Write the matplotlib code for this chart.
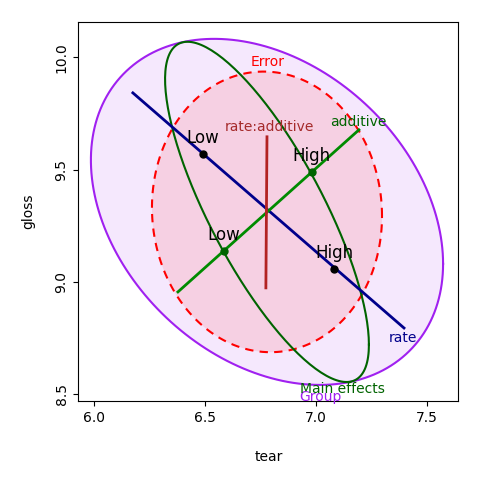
import matplotlib
matplotlib.use("Agg")
import matplotlib.pyplot as plt
import numpy as np

center = (6.778, 9.311)

# ellipses: (sd_x, sd_y, rho, colour, style, fill alpha)
group_ell = (0.793, 0.772, -0.30)
main_ell = (0.459, 0.759, -0.78)
error_ell = (0.518, 0.626, -0.03)

rate_line = ([6.174, 7.395], [9.842, 8.793])
rate_pts = ([6.490, 7.080], [9.570, 9.057])
additive_line = ([6.377, 7.192], [8.954, 9.677])
additive_pts = ([6.584, 6.980], [9.137, 9.490])
inter_line = ([6.778, 6.773], [9.646, 8.972])
levels = ["Low", "High"]


def ellipse(sx, sy, rho, n=200):
    t = np.linspace(0, 2 * np.pi, n)
    cov = np.array([[sx**2, rho * sx * sy], [rho * sx * sy, sy**2]])
    L = np.linalg.cholesky(cov)
    z = np.vstack([np.cos(t), np.sin(t)])
    xy = L @ z
    return center[0] + xy[0], center[1] + xy[1]


fig = plt.figure(figsize=(4.8, 4.8), dpi=100)
ax = fig.add_axes([0.163, 0.164, 0.792, 0.791])

x, y = ellipse(*group_ell)
ax.fill(x, y, color="#A020F0", alpha=0.1, lw=0)
ax.plot(x, y, color="#A020F0", lw=1.5)
x, y = ellipse(*error_ell)
ax.fill(x, y, color="#FF0000", alpha=0.1, lw=0)
ax.plot(x, y, color="#FF0000", lw=1.5, ls=(0, (4, 3)))
x, y = ellipse(*main_ell)
ax.plot(x, y, color="#006400", lw=1.5)

ax.plot(*rate_line, color="#00008B", lw=2)
ax.plot(*additive_line, color="#008B00", lw=2)
ax.plot(*inter_line, color="#B22222", lw=2)
ax.plot(*rate_pts, "o", color="black", ms=5)
ax.plot(*additive_pts, "o", color="#006400", ms=5)
for i, lab in enumerate(levels):
    ax.text(rate_pts[0][i], rate_pts[1][i] + 0.03, lab, ha="center", va="bottom", fontsize=12)
    ax.text(additive_pts[0][i], additive_pts[1][i] + 0.03, lab, ha="center", va="bottom", fontsize=12)

ax.text(6.782, 9.98, "Error", color="#FF0000", ha="center", va="center", fontsize=10)
ax.text(6.79, 9.69, "rate:additive", color="#A52A2A", ha="center", va="center", fontsize=10)
ax.text(7.19, 9.71, "additive", color="#006400", ha="center", va="center", fontsize=10)
ax.text(7.39, 8.75, "rate", color="#00008B", ha="center", va="center", fontsize=10)
ax.text(7.02, 8.485, "Group", color="#A020F0", ha="center", va="center", fontsize=10)
ax.text(7.12, 8.52, "Main effects", color="#006400", ha="center", va="center", fontsize=10)

ax.set_xlim(5.928, 7.64)
ax.set_ylim(8.466, 10.16)
ax.set_xticks([6.0, 6.5, 7.0, 7.5])
ax.set_yticks([8.5, 9.0, 9.5, 10.0])
ax.set_yticklabels(["8.5", "9.0", "9.5", "10.0"], rotation=90, va="center")
ax.tick_params(labelsize=10)
ax.set_xlabel("tear", fontsize=10, labelpad=18)
ax.set_ylabel("gloss", fontsize=10, labelpad=14)
fig.savefig("out.png", dpi=100)
